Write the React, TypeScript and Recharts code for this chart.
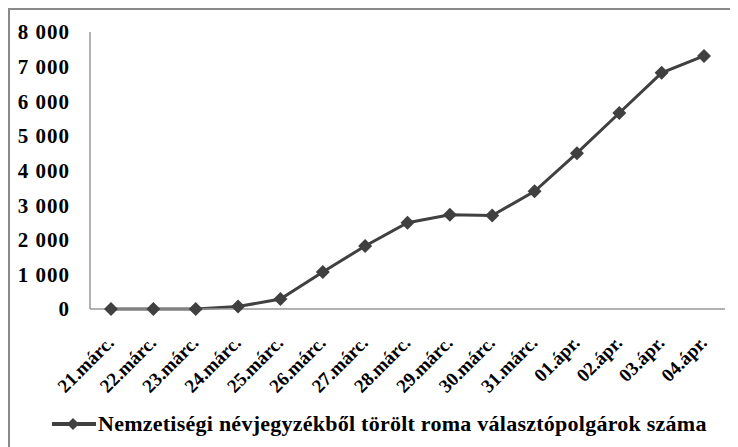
import { LineChart, Line, XAxis, YAxis, Legend } from 'recharts';

const categories = [
  '21.márc.', '22.márc.', '23.márc.', '24.márc.', '25.márc.', '26.márc.', '27.márc.',
  '28.márc.', '29.márc.', '30.márc.', '31.márc.', '01.ápr.', '02.ápr.', '03.ápr.', '04.ápr.',
];
const removedVoters = [0, 0, 0, 70, 290, 1070, 1820, 2490, 2720, 2700, 3400, 4500, 5660, 6820, 7310];
const yTicks = [0, 1000, 2000, 3000, 4000, 5000, 6000, 7000, 8000];
const seriesName = 'Nemzetiségi névjegyzékből törölt roma választópolgárok száma';

const data = categories.map((c, i) => ({ day: c, value: removedVoters[i] }));

const FONT = '"Liberation Serif", "Times New Roman", serif';
const LINE_COLOR = '#404040';

// ezres tagolás szóközzel: 8 000
const fmt = (v: number) => String(v).replace(/\B(?=(\d{3})+(?!\d))/g, ' ');

function Diamond({ cx, cy }: { cx?: number; cy?: number }) {
  if (cx == null || cy == null) return null;
  const r = 7;
  return (
    <path
      d={`M${cx},${cy - r} L${cx + r},${cy} L${cx},${cy + r} L${cx - r},${cy} Z`}
      fill={LINE_COLOR}
    />
  );
}

function DayTick({ x, y, payload }: { x?: number; y?: number; payload?: { value: string } }) {
  return (
    <g transform={`translate(${(x ?? 0) + 4},${(y ?? 0) + 27})`}>
      <text
        x={0}
        y={0}
        textAnchor="end"
        transform="rotate(-45)"
        fontFamily={FONT}
        fontWeight="bold"
        fontSize={19}
        fill="#000"
      >
        {payload?.value}
      </text>
    </g>
  );
}

function LegendContent() {
  return (
    <div style={{ display: 'flex', alignItems: 'center', paddingLeft: 42, paddingTop: 12 }}>
      <svg width={44} height={14} style={{ display: 'block' }}>
        <line x1={0} y1={7} x2={44} y2={7} stroke={LINE_COLOR} strokeWidth={4} />
        <path d="M21,1 L27,7 L21,13 L15,7 Z" fill={LINE_COLOR} />
      </svg>
      <span
        style={{
          fontFamily: FONT,
          fontWeight: 'bold',
          fontSize: 22,
          letterSpacing: 0.25,
          color: '#000',
          marginLeft: 2,
          whiteSpace: 'nowrap',
        }}
      >
        {seriesName}
      </span>
    </div>
  );
}

export default function App() {
  return (
    <div style={{ width: 730, height: 439, overflow: 'hidden', background: '#fff' }}>
      <div
        style={{
          width: 760,
          height: 470,
          borderLeft: '2px solid #8a8a8a',
          borderTop: '2px solid #8a8a8a',
          boxSizing: 'border-box',
        }}
      >
        <LineChart
          width={728}
          height={437}
          data={data}
          margin={{ top: 22, right: 13, bottom: 10, left: 0 }}
        >
          <XAxis
            dataKey="day"
            interval={0}
            tickLine={false}
            padding={{ left: 21, right: 21 }}
            axisLine={{ stroke: '#999', strokeWidth: 1.5 }}
            height={90}
            tick={<DayTick />}
          />
          <YAxis
            domain={[0, 8000]}
            ticks={yTicks}
            width={80}
            tickLine={false}
            tickSize={0}
            tickMargin={20}
            tickFormatter={fmt}
            axisLine={{ stroke: '#999', strokeWidth: 1.5 }}
            tick={{ fontFamily: FONT, fontWeight: 'bold', fontSize: 21, letterSpacing: 1, fill: '#000' }}
          />
          <Legend verticalAlign="bottom" height={38} content={<LegendContent />} />
          <Line
            type="linear"
            dataKey="value"
            name={seriesName}
            stroke={LINE_COLOR}
            strokeWidth={3}
            dot={<Diamond />}
            activeDot={false}
            isAnimationActive={false}
          />
        </LineChart>
      </div>
    </div>
  );
}
